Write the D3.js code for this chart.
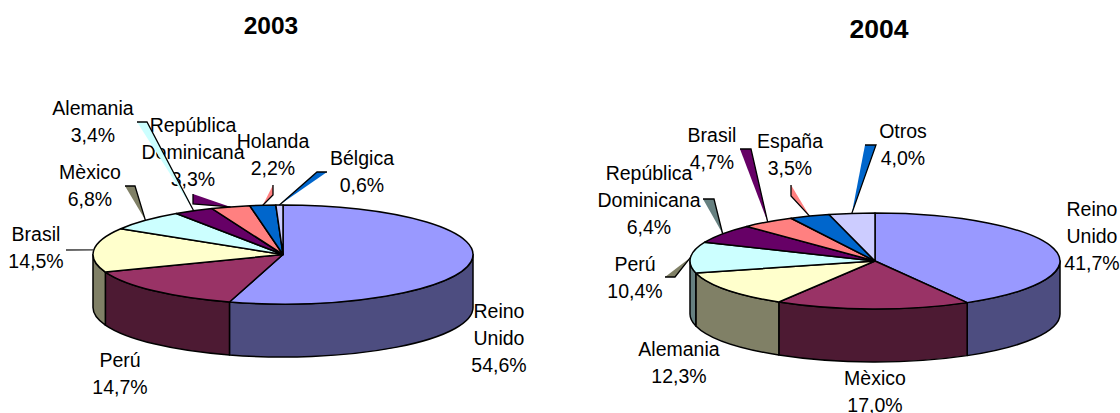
<!DOCTYPE html>
<html>
<head>
<meta charset="utf-8">
<script src="https://cdnjs.cloudflare.com/ajax/libs/d3/7.8.5/d3.min.js"></script>
<style>
  body { margin: 0; background: #fff; }
  svg { display: block; }
  text { font-family: "Liberation Sans", Arial, sans-serif; fill: #000; }
</style>
</head>
<body>
<div id="chart"></div>
<script>
// values
const categories2003 = ["Reino Unido", "Perú", "Brasil", "Mèxico", "Alemania", "República Dominicana", "Holanda", "Bélgica"];
const values2003 = [54.6, 14.7, 14.5, 6.8, 3.4, 3.3, 2.2, 0.6];
const categories2004 = ["Reino Unido", "Mèxico", "Alemania", "Perú", "República Dominicana", "Brasil", "España", "Otros"];
const values2004 = [41.7, 17.0, 12.3, 10.4, 6.4, 4.7, 3.5, 4.0];

const topColors = ["#9999ff", "#993366", "#ffffcc", "#ccffff", "#660066", "#ff8080", "#0066cc", "#ccccff"];
const sideColors = ["#4d4d80", "#4d1a33", "#808066", "#668080", "#330033", "#804040", "#003366", "#666680"];

// label centres and the two outer corners of each leader wedge, one entry per slice
const layout2003 = {
    title: {x: 271, y: 25, size: 24.5},
    pie: {cx: 283, cy: 254.5, rx: 190, ry: 49.5, depth: 53},
    labels: [
        {x: 499, y: 311},
        {x: 120, y: 360},
        {x: 36, y: 234, fill: "#333", base: [[66, 250], [66, 250]]},
        {x: 90, y: 172, fill: "#808066", base: [[125, 186], [135, 186]]},
        {x: 93, y: 108, fill: "#ccffff", base: [[137, 122], [147, 122]]},
        {x: 193, y: 125, fill: "#660066", base: [[193, 194], [193, 204]]},
        {x: 273, y: 141, fill: "#ff8080", base: [[273, 185], [273, 195]]},
        {x: 362, y: 158, fill: "#0066cc", base: [[327, 172], [317, 172]]}
    ]
};
const layout2004 = {
    title: {x: 879, y: 29, size: 26.5},
    pie: {cx: 875, cy: 261, rx: 185, ry: 48, depth: 53},
    labels: [
        {x: 1092, y: 209},
        {x: 875, y: 378},
        {x: 679, y: 349},
        {x: 635, y: 264, fill: "#808066", base: [[665, 277], [675, 277]]},
        {x: 649, y: 173, fill: "#668080", base: [[703, 199], [714, 199]]},
        {x: 712, y: 135, fill: "#660066", base: [[740, 149], [751, 149]]},
        {x: 790, y: 141, fill: "#ff8080", base: [[791, 185], [791, 196]]},
        {x: 903, y: 131, fill: "#0066cc", base: [[865, 145], [876, 145]]}
    ]
};

const lineHeight = 27.3,
      fontSize = 19.5;

const fmt = d3.formatLocale({decimal: ",", thousands: ".", grouping: [3], currency: ["", ""]}).format(".1f");

const svg = d3.select("#chart")
    .append("svg")
    .attr("width", 1120)
    .attr("height", 413);

function drawPie(title, categories, values, layout) {
    const {cx, cy, rx, ry, depth} = layout.pie;
    const g = svg.append("g");
    const pt = a => [cx + rx * Math.sin(a), cy - ry * Math.cos(a)];
    const arcs = d3.pie().sort(null).value(d => d)(values);

    g.append("text")
        .attr("x", layout.title.x)
        .attr("y", layout.title.y)
        .attr("dy", "0.35em")
        .attr("text-anchor", "middle")
        .style("font-size", layout.title.size + "px")
        .style("font-weight", "bold")
        .text(title);

    // side wall, only the part of each slice that faces the viewer
    g.selectAll(".side")
        .data(arcs.filter(d => d.endAngle > Math.PI / 2 && d.startAngle < 3 * Math.PI / 2))
        .enter().append("path")
        .attr("class", "side")
        .attr("d", d => {
            const a0 = Math.max(d.startAngle, Math.PI / 2),
                  a1 = Math.min(d.endAngle, 3 * Math.PI / 2),
                  p0 = pt(a0), p1 = pt(a1);
            return `M${p0}A${rx},${ry} 0 0 1 ${p1}L${p1[0]},${p1[1] + depth}` +
                   `A${rx},${ry} 0 0 0 ${p0[0]},${p0[1] + depth}Z`;
        })
        .attr("fill", d => sideColors[d.index])
        .attr("stroke", "#000")
        .attr("stroke-width", 1.5)
        .attr("stroke-linejoin", "round");

    // top face
    g.selectAll(".slice")
        .data(arcs)
        .enter().append("path")
        .attr("class", "slice")
        .attr("d", d => {
            const large = d.endAngle - d.startAngle > Math.PI ? 1 : 0;
            return `M${cx},${cy}L${pt(d.startAngle)}A${rx},${ry} 0 ${large} 1 ${pt(d.endAngle)}Z`;
        })
        .attr("fill", d => topColors[d.index])
        .attr("stroke", "#000")
        .attr("stroke-width", 1.5)
        .attr("stroke-linejoin", "round");

    // labels: name, split in lines, then the percentage
    arcs.forEach(d => {
        const l = layout.labels[d.index];
        const lines = categories[d.index].split(" ").concat(fmt(d.data) + "%");
        g.append("text")
            .attr("text-anchor", "middle")
            .style("font-size", fontSize + "px")
            .selectAll("tspan")
            .data(lines)
            .enter().append("tspan")
            .attr("x", l.x)
            .attr("y", (s, i) => l.y + i * lineHeight)
            .attr("dy", "0.35em")
            .text(s => s);
    });

    // leader wedges, the tip sits on the rim at the middle of the slice
    arcs.filter(d => layout.labels[d.index].base).forEach(d => {
        const l = layout.labels[d.index];
        const tip = pt((d.startAngle + d.endAngle) / 2);
        const [b0, b1] = l.base;
        g.append("path")
            .attr("d", d3.line()([b0, b1, tip]) + "Z")
            .attr("fill", l.fill);
        g.append("path")
            .attr("d", d3.line()([b0, b1, tip]))
            .attr("fill", "none")
            .attr("stroke", b0[0] === b1[0] && b0[1] === b1[1] ? l.fill : "#000")
            .attr("stroke-width", 1.3);
    });
}

drawPie("2003", categories2003, values2003, layout2003);
drawPie("2004", categories2004, values2004, layout2004);
</script>
</body>
</html>
